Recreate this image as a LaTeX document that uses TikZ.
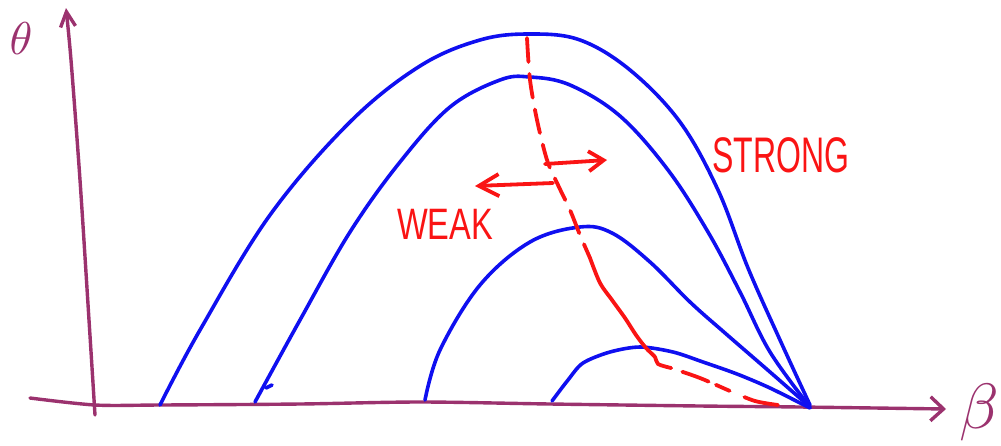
\documentclass[tikz,border=0pt]{standalone}
\usepackage{graphicx}
\usepackage{fontspec}
\newfontfamily\handfont{Liberation Sans}
\usetikzlibrary{arrows.meta}
\definecolor{axiscol}{RGB}{155,50,110}
\definecolor{curveblue}{RGB}{15,15,240}
\definecolor{inkred}{RGB}{250,20,20}
\tikzset{
  axisline/.style={draw=axiscol,line width=3.4pt,line cap=round,line join=round},
  bluecurve/.style={draw=curveblue,line width=3.6pt,line cap=round,line join=round},
  redline/.style={draw=inkred,line width=3.8pt,line cap=round,line join=round},
  reddash/.style={redline,dash pattern=on 24pt off 12pt},
  redlabel/.style={text=inkred,font=\handfont,inner sep=0pt},
  axislabel/.style={text=axiscol,inner sep=0pt},
}
\begin{document}
\begin{tikzpicture}[x=1pt,y=-1pt]
\useasboundingbox (0,0) rectangle (1001,445);
% axes
\draw[axisline,-{Straight Barb[length=13pt,width=24pt]}] plot[smooth,tension=0.5] coordinates
  {(30,398) (95,405) (160,405) (300,404) (420,402) (550,404) (700,406) (800,407) (946,409)};
\draw[axisline,-{Straight Barb[length=15pt,width=15pt]}] plot[smooth,tension=0.5] coordinates
  {(95,415) (89,320) (80,180) (71,60) (66,8)};
\node[axislabel] (theta) at (21,39) {\scalebox{4.6}{$\theta$}};
\node[axislabel] (beta) at (979,412) {\scalebox{6.4}{$\beta$}};
% blue curves
\draw[bluecurve] plot[smooth,tension=0.6] coordinates
  {(160,405) (200,330) (270,215) (350,122) (420,66) (480,40) (530,34) (580,40) (630,70) (680,122) (718,190) (748,268) (780,340) (810,405)};
\draw[bluecurve] plot[smooth,tension=0.6] coordinates
  {(255,402) (300,320) (350,232) (400,162) (450,107) (500,80) (530,77) (570,85) (620,116) (668,170) (708,232) (740,292) (770,352) (810,407)};
\draw[bluecurve] (266,388) -- (272,385);
\draw[bluecurve] plot[smooth,tension=0.6] coordinates
  {(425,400) (440,350) (480,285) (530,242) (580,227) (612,233) (650,262) (690,302) (725,333) (770,372) (810,407)};
\draw[bluecurve] plot[smooth,tension=0.5] coordinates
  {(552,401) (568,380) (583,363) (610,352) (640,347) (673,352) (703,362) (737,374) (770,388) (810,408)};
% red boundary
\draw[reddash] plot[smooth,tension=0.5] coordinates
  {(527,38) (530,80) (537,120) (547,160) (558,185) (570,210) (580,235) (590,258)};
\draw[redline] plot[smooth,tension=0.5] coordinates
  {(590,258) (600,283) (612,300) (625,318) (636,335) (646,348) (655,357) (658,364) (671,368)};
\draw[redline,dash pattern=on 0pt off 12pt on 28pt off 8pt on 15pt off 16pt on 36pt off 20pt] plot[smooth,tension=0.5] coordinates
  {(671,368) (700,378) (730,391) (755,401) (778,405)};
% red arrows
\coordinate (rstart) at (545,164);
\coordinate (rend) at (607,160);
\coordinate (lstart) at (553,183);
\coordinate (lend) at (475,186);
\draw[redline,-{Straight Barb[length=15pt,width=20pt]}] (rstart) -- (rend);
\draw[redline,-{Straight Barb[length=20pt,width=22pt]}] (lstart) -- (lend);
% labels
\node[redlabel] (weak) at (445,224) {\scalebox{0.74}[1]{\fontsize{44}{44}\selectfont WEAK}};
\node[redlabel] (strong) at (781,155) {\scalebox{0.64}[1]{\fontsize{50}{50}\selectfont STRONG}};
\end{tikzpicture}
\end{document}
